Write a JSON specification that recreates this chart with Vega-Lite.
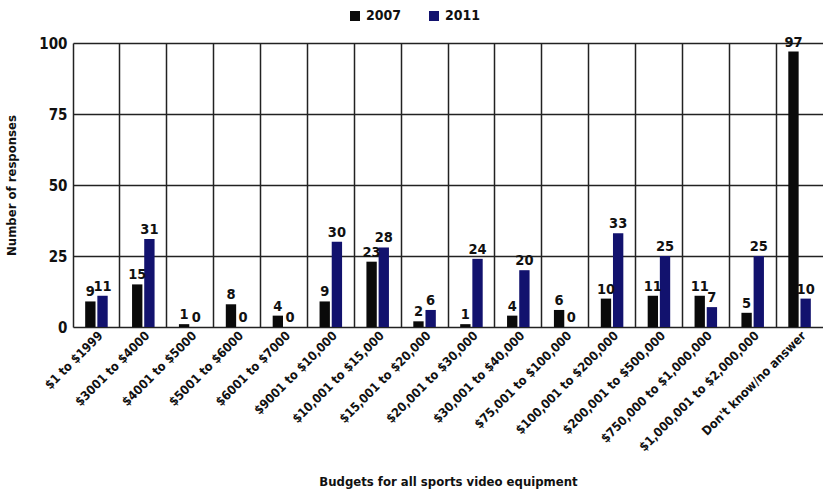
{
  "$schema": "https://vega.github.io/schema/vega-lite/v6.json",
  "autosize": "none",
  "padding": {"left": 73, "top": 43, "right": 0, "bottom": 168},
  "width": 750,
  "height": 284,
  "background": "white",
  "config": {
    "font": "DejaVu Sans Condensed, Liberation Sans Narrow, Liberation Sans, sans-serif",
    "view": {"stroke": null}
  },
  "data": {
    "values": [
      {"budget": "$1 to $1999", "year": "2007", "n": 9},
      {"budget": "$1 to $1999", "year": "2011", "n": 11},
      {"budget": "$3001 to $4000", "year": "2007", "n": 15},
      {"budget": "$3001 to $4000", "year": "2011", "n": 31},
      {"budget": "$4001 to $5000", "year": "2007", "n": 1},
      {"budget": "$4001 to $5000", "year": "2011", "n": 0},
      {"budget": "$5001 to $6000", "year": "2007", "n": 8},
      {"budget": "$5001 to $6000", "year": "2011", "n": 0},
      {"budget": "$6001 to $7000", "year": "2007", "n": 4},
      {"budget": "$6001 to $7000", "year": "2011", "n": 0},
      {"budget": "$9001 to $10,000", "year": "2007", "n": 9},
      {"budget": "$9001 to $10,000", "year": "2011", "n": 30},
      {"budget": "$10,001 to $15,000", "year": "2007", "n": 23},
      {"budget": "$10,001 to $15,000", "year": "2011", "n": 28},
      {"budget": "$15,001 to $20,000", "year": "2007", "n": 2},
      {"budget": "$15,001 to $20,000", "year": "2011", "n": 6},
      {"budget": "$20,001 to $30,000", "year": "2007", "n": 1},
      {"budget": "$20,001 to $30,000", "year": "2011", "n": 24},
      {"budget": "$30,001 to $40,000", "year": "2007", "n": 4},
      {"budget": "$30,001 to $40,000", "year": "2011", "n": 20},
      {"budget": "$75,001 to $100,000", "year": "2007", "n": 6},
      {"budget": "$75,001 to $100,000", "year": "2011", "n": 0},
      {"budget": "$100,001 to $200,000", "year": "2007", "n": 10},
      {"budget": "$100,001 to $200,000", "year": "2011", "n": 33},
      {"budget": "$200,001 to $500,000", "year": "2007", "n": 11},
      {"budget": "$200,001 to $500,000", "year": "2011", "n": 25},
      {"budget": "$750,000 to $1,000,000", "year": "2007", "n": 11},
      {"budget": "$750,000 to $1,000,000", "year": "2011", "n": 7},
      {"budget": "$1,000,001 to $2,000,000", "year": "2007", "n": 5},
      {"budget": "$1,000,001 to $2,000,000", "year": "2011", "n": 25},
      {"budget": "Don't know/no answer", "year": "2007", "n": 97},
      {"budget": "Don't know/no answer", "year": "2011", "n": 10}
    ]
  },
  "encoding": {
    "x": {
      "field": "budget",
      "type": "nominal",
      "sort": null,
      "scale": {"paddingInner": 0, "paddingOuter": 0},
      "axis": {
        "title": "Budgets for all sports video equipment",
        "titleFontSize": 13,
        "titleFontWeight": "bold",
        "titleColor": "#111",
        "titleY": 148,
        "labelAngle": -45,
        "labelFontSize": 12.5,
        "labelFontWeight": "bold",
        "labelColor": "#111",
        "labelPadding": 2,
        "labelLimit": 200,
        "ticks": false,
        "domain": false,
        "grid": true,
        "bandPosition": 0,
        "gridColor": "#222",
        "gridWidth": 1.5
      }
    },
    "xOffset": {
      "field": "year",
      "type": "nominal",
      "scale": {"paddingInner": 0.15, "paddingOuter": 1.21}
    },
    "y": {
      "field": "n",
      "type": "quantitative",
      "scale": {"domain": [0, 100], "nice": false},
      "axis": {
        "title": "Number of responses",
        "titleFontSize": 13,
        "titleFontWeight": "bold",
        "titleColor": "#111",
        "titleX": -55,
        "values": [0, 25, 50, 75, 100],
        "labelFontSize": 15,
        "labelFontWeight": "bold",
        "labelColor": "#111",
        "labelPadding": 6,
        "ticks": false,
        "domain": false,
        "gridColor": "#222",
        "gridWidth": 1.5
      }
    }
  },
  "layer": [
    {
      "mark": {"type": "bar"},
      "encoding": {
        "color": {
          "field": "year",
          "type": "nominal",
          "scale": {"domain": ["2007", "2011"], "range": ["#0a0a0a", "#12126e"]},
          "legend": {
            "title": null,
            "orient": "none",
            "direction": "horizontal",
            "legendX": 275,
            "legendY": -34,
            "symbolType": "square",
            "symbolSize": 100,
            "labelFontSize": 14,
            "labelFontWeight": "bold",
            "labelColor": "#111",
            "columnPadding": 25
          }
        }
      }
    },
    {
      "mark": {"type": "text", "dy": -9, "fontSize": 14.5, "fontWeight": "bold", "color": "#111"},
      "encoding": {
        "text": {"field": "n", "type": "quantitative"}
      }
    }
  ]
}
